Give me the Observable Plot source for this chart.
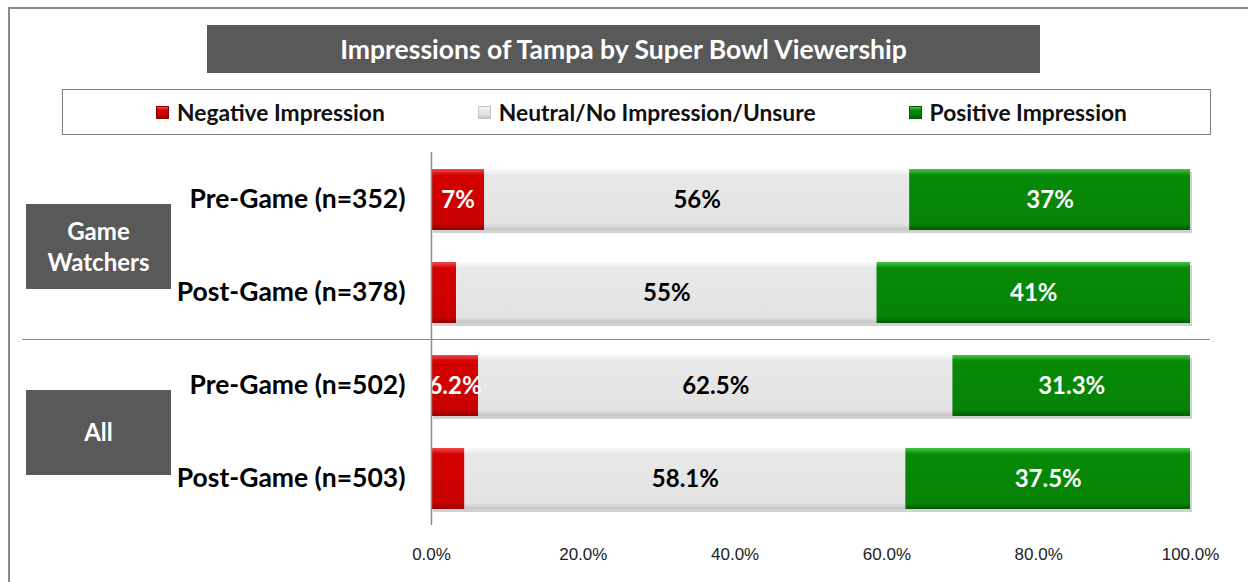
<!DOCTYPE html>
<html>
<head>
<meta charset="utf-8">
<script src="https://cdn.jsdelivr.net/npm/d3@7"></script>
<script src="https://cdn.jsdelivr.net/npm/@observablehq/plot@0.6"></script>
<style>
  html, body { margin: 0; padding: 0; background: #fff; }
  #wrap { position: relative; width: 1248px; height: 582px; overflow: hidden; font-family: Lato, "Open Sans", sans-serif; background: #fff; }
  #frame { position: absolute; left: 8px; top: 7px; width: 1300px; height: 700px; border-left: 2px solid #8a8a8a; border-top: 2px solid #8a8a8a; box-sizing: border-box; }
  #title { position: absolute; left: 207px; top: 25px; width: 833px; height: 48px; background: #595959; color: #fff; font-weight: bold; font-size: 26.5px; display: flex; align-items: center; justify-content: center; }
  #legend { position: absolute; left: 62px; top: 89px; width: 1149px; height: 46px; border: 1.5px solid #7f7f7f; box-sizing: border-box; display: flex; align-items: center; justify-content: center; gap: 93px; padding-left: 10px; }
  .item { display: flex; align-items: center; gap: 8px; font-weight: bold; font-size: 22.8px; color: #111; }
  .sw { width: 13px; height: 13px; box-sizing: border-box; }
  .gbox { position: absolute; left: 26px; width: 145px; height: 85px; background: #595959; color: #fff; font-weight: bold; font-size: 24px; display: flex; align-items: center; justify-content: center; text-align: center; line-height: 1.3; }
  #sep { position: absolute; left: 22px; width: 1188px; height: 0; border-top: 1.5px solid #8a8a8a; }
  #chart { position: absolute; left: 0; top: 140px; }
</style>
</head>
<body>
<div id="wrap">
  <div id="frame"></div>
  <div id="title"></div>
  <div id="legend"></div>
  <div id="chart"></div>
</div>
<script>
// ---- data ----
const titleText = "Impressions of Tampa by Super Bowl Viewership";
const categories = ["Negative Impression", "Neutral/No Impression/Unsure", "Positive Impression"];
const groups = ["Game Watchers", "All"];
const rowLabels = ["Pre-Game (n=352)", "Post-Game (n=378)", "Pre-Game (n=502)", "Post-Game (n=503)"];
const rowGroup = [0, 0, 1, 1];
const groupDecimals = [0, 1];
const negative = [7, 3.3, 6.2, 4.4];
const neutral = [56, 55.4, 62.5, 58.1];
const positive = [37, 41.3, 31.3, 37.5];
const xTicks = [0, 20, 40, 60, 80, 100];

// ---- styles ----
const gradIds = ["gNeg", "gNeu", "gPos"];
const gradStops = [
  ["#f24a4a", "#d40000", "#c80000", "#8f0000"],
  ["#fafafa", "#e8e8e8", "#e3e3e3", "#c4c4c4"],
  ["#45c445", "#078a07", "#068206", "#045a04"]
];
const labelColors = ["#fff", "#000", "#fff"];

// ---- table ----
const series = [negative, neutral, positive];
const table = [];
rowLabels.forEach((r, i) => {
  categories.forEach((c, k) => {
    table.push({row: r, cat: c, k, value: series[k][i], dec: groupDecimals[rowGroup[i]]});
  });
});

document.getElementById("title").textContent = titleText;

// legend
const legend = document.getElementById("legend");
categories.forEach((c, k) => {
  const it = document.createElement("div");
  it.className = "item";
  const sw = document.createElement("div");
  sw.className = "sw";
  const s = gradStops[k];
  sw.style.background = `linear-gradient(to bottom, ${s[0]} 0%, ${s[1]} 30%, ${s[2]} 70%, ${s[3]} 100%)`;
  sw.style.border = `1px solid ${s[3]}`;
  const t = document.createElement("span");
  t.textContent = c;
  it.appendChild(sw); it.appendChild(t);
  legend.appendChild(it);
});

const W = 1248, H = 442;
const chart = Plot.plot({
  width: W,
  height: H,
  marginLeft: 431,
  marginRight: 58,
  marginTop: 12,
  marginBottom: 57,
  style: {fontFamily: "Lato, sans-serif", background: "transparent", overflow: "visible"},
  x: {domain: [0, 100], axis: null},
  y: {domain: rowLabels, paddingInner: 0.347, paddingOuter: 0.171, axis: null},
  color: {domain: categories, range: gradIds.map(id => `url(#${id})`)},
  marks: [
    // shadow
    Plot.barX(table, Plot.stackX({x: "value", y: "row", order: "k", fill: "#000", fillOpacity: 0.18, dx: 2, dy: 3})),
    Plot.barX(table, Plot.stackX({x: "value", y: "row", order: "k", fill: "cat"})),
    Plot.text(table, Plot.stackX({
      x: "value", y: "row", order: "k",
      text: d => d.value >= 5 ? d.value.toFixed(d.dec) + "%" : "",
      fill: d => labelColors[d.k],
      fontSize: 24, fontWeight: "bold"
    })),
    // y tick labels
    Plot.text(rowLabels, {x: 0, y: d => d, text: d => d, textAnchor: "end", dx: -26, fontSize: 26.5, fontWeight: "bold", fill: "#000"}),
    // axis lines
    Plot.ruleX([0], {stroke: "#8a8a8a", strokeWidth: 1.5}),
    Plot.axisX(xTicks, {ticks: xTicks, tickSize: 0, tickPadding: 22, tickFormat: d => d.toFixed(1) + "%", fontSize: 17, fontFamily: "Liberation Sans, Arial, sans-serif", fill: "#222", line: true, stroke: "#8a8a8a", label: null})
  ]
});

// gradients
const svgNS = "http://www.w3.org/2000/svg";
const defs = document.createElementNS(svgNS, "defs");
gradIds.forEach((id, k) => {
  const g = document.createElementNS(svgNS, "linearGradient");
  g.setAttribute("id", id);
  g.setAttribute("x1", "0"); g.setAttribute("y1", "0"); g.setAttribute("x2", "0"); g.setAttribute("y2", "1");
  [0, 0.1, 0.9, 1].forEach((o, j) => {
    const st = document.createElementNS(svgNS, "stop");
    st.setAttribute("offset", o);
    st.setAttribute("stop-color", gradStops[k][j]);
    g.appendChild(st);
  });
  defs.appendChild(g);
});
chart.insertBefore(defs, chart.firstChild);
document.getElementById("chart").appendChild(chart);

// group boxes and separator from the y scale
const y = chart.scale("y");
const bw = y.bandwidth;
const top0 = 140;
const wrap = document.getElementById("wrap");
groups.forEach((g, gi) => {
  const idx = rowGroup.map((v, i) => v === gi ? i : -1).filter(i => i >= 0);
  const t = y.apply(rowLabels[idx[0]]);
  const b = y.apply(rowLabels[idx[idx.length - 1]]) + bw;
  const c = (t + b) / 2 + top0;
  const box = document.createElement("div");
  box.className = "gbox";
  box.style.top = (c - 42.5) + "px";
  box.innerHTML = g.split(" ").join("<br>");
  wrap.appendChild(box);
});
for (let gi = 1; gi < groups.length; gi++) {
  const last = rowGroup.lastIndexOf(gi - 1);
  const first = rowGroup.indexOf(gi);
  const sy = (y.apply(rowLabels[last]) + bw + y.apply(rowLabels[first])) / 2 + top0;
  const sep = document.createElement("div");
  sep.id = "sep";
  sep.style.top = sy + "px";
  wrap.appendChild(sep);
}
</script>
</body>
</html>
